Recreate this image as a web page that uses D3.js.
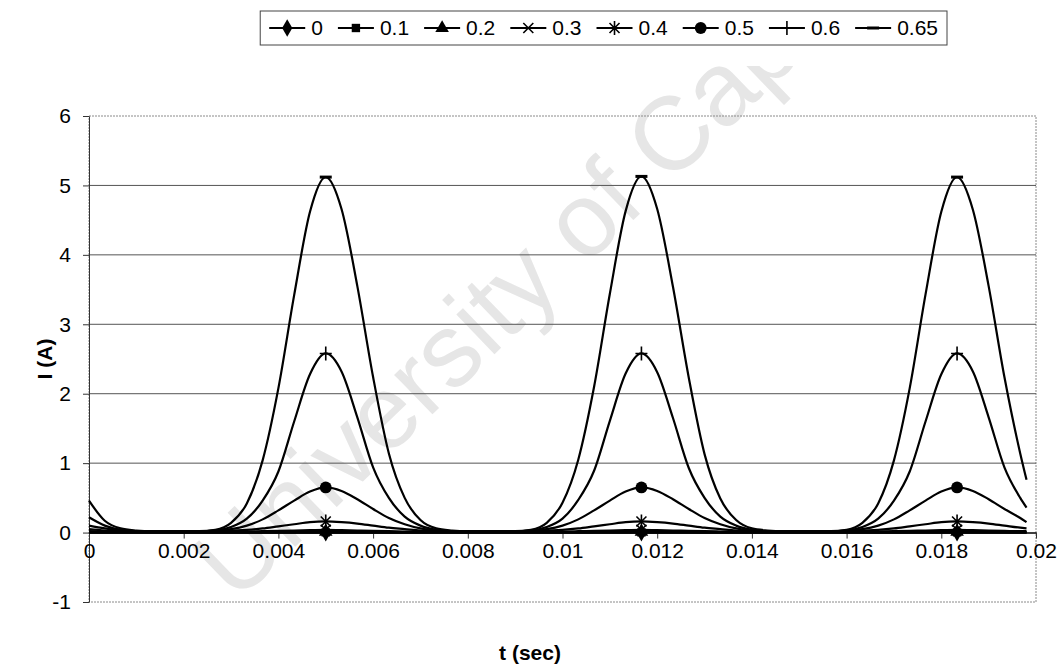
<!DOCTYPE html>
<html>
<head>
<meta charset="utf-8">
<script src="https://cdn.jsdelivr.net/npm/d3@7"></script>
<style>
  body { margin: 0; background: #fff; }
  text { font-family: "Liberation Sans", Arial, sans-serif; }
</style>
</head>
<body>
<div id="chart"></div>
<script>
// sample times (s)
const times = [0, 0.000333, 0.000667, 0.001, 0.001333, 0.001667, 0.002, 0.002333, 0.002667, 0.003,
    0.003333, 0.003667, 0.004, 0.004333, 0.004667, 0.005, 0.005333, 0.005667, 0.006, 0.006333,
    0.006667, 0.007, 0.007333, 0.007667, 0.008, 0.008333, 0.008667, 0.009, 0.009333, 0.009667,
    0.01, 0.010333, 0.010667, 0.011, 0.011333, 0.011667, 0.012, 0.012333, 0.012667, 0.013,
    0.013333, 0.013667, 0.014, 0.014333, 0.014667, 0.015, 0.015333, 0.015667, 0.016, 0.016333,
    0.016667, 0.017, 0.017333, 0.017667, 0.018, 0.018333, 0.018667, 0.019, 0.019333, 0.019667, 0.0198];

// current (A) per series
const i0 = [0, 0, 0, 0, 0, 0, 0, 0, 0, 0, 0, 0, 0, 0, 0, 0, 0, 0, 0, 0, 0, 0, 0, 0, 0, 0, 0, 0, 0, 0,
    0, 0, 0, 0, 0, 0, 0, 0, 0, 0, 0, 0, 0, 0, 0, 0, 0, 0, 0, 0, 0, 0, 0, 0, 0, 0, 0, 0, 0, 0, 0];
const i01 = [0.003, 0.002, 0.002, 0.002, 0.002, 0.002, 0.002, 0.002, 0.002, 0.002, 0.002, 0.002, 0.003, 0.003, 0.003,
    0.003, 0.003, 0.003, 0.003, 0.002, 0.002, 0.002, 0.002, 0.002, 0.002, 0.002, 0.002, 0.002, 0.002, 0.002,
    0.002, 0.002, 0.003, 0.003, 0.003, 0.003, 0.003, 0.003, 0.003, 0.002, 0.002, 0.002, 0.002, 0.002, 0.002,
    0.002, 0.002, 0.002, 0.002, 0.002, 0.002, 0.002, 0.003, 0.003, 0.003, 0.003, 0.003, 0.003, 0.003, 0.002, 0.002];
const i02 = [0.008, 0.006, 0.005, 0.005, 0.005, 0.005, 0.005, 0.005, 0.005, 0.005, 0.006, 0.007, 0.008, 0.009, 0.01,
    0.01, 0.01, 0.009, 0.008, 0.007, 0.006, 0.005, 0.005, 0.005, 0.005, 0.005, 0.005, 0.005, 0.005, 0.005,
    0.006, 0.007, 0.008, 0.009, 0.01, 0.01, 0.01, 0.009, 0.008, 0.007, 0.006, 0.005, 0.005, 0.005, 0.005,
    0.005, 0.005, 0.005, 0.005, 0.005, 0.006, 0.007, 0.008, 0.009, 0.01, 0.01, 0.01, 0.009, 0.008, 0.007, 0.007];
const i03 = [0.02, 0.015, 0.01, 0.01, 0.01, 0.01, 0.01, 0.01, 0.01, 0.01, 0.015, 0.02, 0.025, 0.03, 0.035,
    0.04, 0.035, 0.03, 0.025, 0.02, 0.015, 0.01, 0.01, 0.01, 0.01, 0.01, 0.01, 0.01, 0.01, 0.01,
    0.015, 0.02, 0.025, 0.03, 0.035, 0.04, 0.035, 0.03, 0.025, 0.02, 0.015, 0.01, 0.01, 0.01, 0.01,
    0.01, 0.01, 0.01, 0.01, 0.01, 0.015, 0.02, 0.025, 0.03, 0.035, 0.04, 0.035, 0.03, 0.025, 0.02, 0.02];
const i04 = [0.05, 0.03, 0.02, 0.01, 0.01, 0.01, 0.01, 0.01, 0.02, 0.03, 0.04, 0.06, 0.09, 0.12, 0.15,
    0.16, 0.15, 0.13, 0.1, 0.07, 0.05, 0.03, 0.02, 0.01, 0.01, 0.01, 0.01, 0.01, 0.02, 0.03,
    0.04, 0.06, 0.09, 0.12, 0.15, 0.16, 0.15, 0.13, 0.1, 0.07, 0.05, 0.03, 0.02, 0.01, 0.01,
    0.01, 0.01, 0.01, 0.02, 0.03, 0.04, 0.06, 0.09, 0.12, 0.15, 0.16, 0.15, 0.13, 0.1, 0.07, 0.06];
const i05 = [0.1, 0.06, 0.03, 0.02, 0.02, 0.02, 0.02, 0.02, 0.03, 0.05, 0.1, 0.19, 0.32, 0.46, 0.59,
    0.65, 0.6, 0.48, 0.34, 0.21, 0.12, 0.06, 0.03, 0.02, 0.02, 0.02, 0.02, 0.02, 0.03, 0.05,
    0.1, 0.19, 0.32, 0.46, 0.59, 0.65, 0.6, 0.48, 0.34, 0.21, 0.12, 0.06, 0.03, 0.02, 0.02,
    0.02, 0.02, 0.02, 0.03, 0.05, 0.1, 0.19, 0.32, 0.46, 0.59, 0.65, 0.6, 0.48, 0.34, 0.21, 0.15];
const i06 = [0.22, 0.1, 0.04, 0.02, 0.02, 0.02, 0.02, 0.02, 0.03, 0.08, 0.2, 0.46, 0.88, 1.6, 2.28,
    2.58, 2.32, 1.66, 0.94, 0.5, 0.23, 0.1, 0.04, 0.02, 0.02, 0.02, 0.02, 0.02, 0.03, 0.08,
    0.2, 0.47, 0.89, 1.61, 2.29, 2.58, 2.31, 1.65, 0.93, 0.5, 0.23, 0.1, 0.04, 0.02, 0.02,
    0.02, 0.02, 0.02, 0.03, 0.08, 0.2, 0.46, 0.88, 1.6, 2.28, 2.58, 2.32, 1.66, 0.94, 0.5, 0.36];
const i065 = [0.46, 0.17, 0.06, 0.03, 0.02, 0.02, 0.02, 0.02, 0.04, 0.14, 0.42, 1.04, 2.08, 3.42, 4.62,
    5.12, 4.66, 3.55, 2.24, 1.14, 0.5, 0.18, 0.06, 0.03, 0.02, 0.02, 0.02, 0.02, 0.04, 0.14,
    0.43, 1.05, 2.1, 3.44, 4.63, 5.13, 4.66, 3.54, 2.23, 1.13, 0.49, 0.18, 0.06, 0.03, 0.02,
    0.02, 0.02, 0.02, 0.04, 0.14, 0.42, 1.04, 2.08, 3.43, 4.62, 5.12, 4.65, 3.55, 2.24, 1.14, 0.76];

const seriesNames = ["0", "0.1", "0.2", "0.3", "0.4", "0.5", "0.6", "0.65"];
const seriesValues = [i0, i01, i02, i03, i04, i05, i06, i065];
const markerTypes = ["diamond", "square", "triangle", "x", "asterisk", "circle", "plus", "dash"];
// markers only show at the peak samples
const markerTimes = [0.005, 0.011667, 0.018333];

const xTicks = [0, 0.002, 0.004, 0.006, 0.008, 0.01, 0.012, 0.014, 0.016, 0.018, 0.02];
const xTickLabels = ["0", "0.002", "0.004", "0.006", "0.008", "0.01", "0.012", "0.014", "0.016", "0.018", "0.02"];
const yTicks = [-1, 0, 1, 2, 3, 4, 5, 6];
const yTickLabels = ["-1", "0", "1", "2", "3", "4", "5", "6"];

const W = 1062, H = 665;
const margin = { top: 116, right: 26, bottom: 63, left: 89 };
const width = W - margin.left - margin.right;
const height = H - margin.top - margin.bottom;
const fontSize = 21;

const svg = d3.select('#chart').append('svg')
    .attr('width', W)
    .attr('height', H);

svg.append('rect').attr('width', W).attr('height', H).attr('fill', '#fff');

// faint watermark behind everything, cut off near the top like the scan
svg.append('clipPath').attr('id', 'wm-clip')
    .append('rect').attr('x', 0).attr('y', 66).attr('width', W).attr('height', H - 66);
svg.append('g')
    .attr('clip-path', 'url(#wm-clip)')
    .append('text')
    .attr('transform', 'translate(236,604) rotate(-44)')
    .attr('font-size', 104)
    .attr('fill', '#e6e6e6')
    .text('University of Cape Town');

const x = d3.scaleLinear().domain([0, 0.02]).range([0, width]);
const y = d3.scaleLinear().domain([-1, 6]).range([height, 0]);

const g = svg.append('g')
    .attr('transform', `translate(${margin.left},${margin.top})`);

// plot area border (dotted)
g.append('rect')
    .attr('width', width).attr('height', height)
    .attr('fill', 'none')
    .attr('stroke', '#8a8a8a')
    .attr('stroke-dasharray', '2,1');

// horizontal gridlines
g.append('g')
    .selectAll('line')
    .data(yTicks.filter(d => d > 0 && d < 6))
    .enter()
    .append('line')
    .attr('x1', 0).attr('x2', width)
    .attr('y1', d => y(d)).attr('y2', d => y(d))
    .attr('stroke', '#555')
    .attr('stroke-width', 1);

// y axis
const yAxis = g.append('g')
    .call(d3.axisLeft(y).tickValues(yTicks).tickSize(6).tickSizeOuter(0).tickPadding(12)
        .tickFormat((d, i) => yTickLabels[i]));
yAxis.select('.domain').attr('stroke', '#333');
yAxis.selectAll('.tick line').attr('stroke', '#333');
yAxis.selectAll('text').attr('font-size', fontSize).attr('fill', '#000');

// x axis sits on y = 0
const xAxis = g.append('g')
    .attr('transform', `translate(0,${y(0)})`)
    .call(d3.axisBottom(x).tickValues(xTicks).tickSize(6).tickSizeOuter(0).tickPadding(5)
        .tickFormat((d, i) => xTickLabels[i]));
xAxis.select('.domain').attr('stroke', '#000').attr('stroke-width', 1.5);
xAxis.selectAll('.tick line').attr('stroke', '#333');
xAxis.selectAll('text').attr('font-size', fontSize).attr('fill', '#000');

// curves
const line = d3.line()
    .x((d, i) => x(times[i]))
    .y(d => y(d))
    .curve(d3.curveMonotoneX);

g.append('g')
    .selectAll('path')
    .data(seriesValues)
    .enter()
    .append('path')
    .attr('d', line)
    .attr('fill', 'none')
    .attr('stroke', '#000')
    .attr('stroke-width', 2.2);

function marker(sel, type) {
    const filled = { diamond: d3.symbolDiamond, square: d3.symbolSquare, triangle: d3.symbolTriangle, circle: d3.symbolCircle };
    const sizes = { diamond: 90, square: 70, triangle: 80, circle: 110 };
    if (filled[type]) {
        return sel.append('path')
            .attr('d', d3.symbol().type(filled[type]).size(sizes[type])())
            .attr('fill', '#000');
    }
    let d;
    if (type === 'x') d = 'M-5,-5L5,5M-5,5L5,-5';
    if (type === 'asterisk') d = 'M-5,-5L5,5M-5,5L5,-5M0,-7V7';
    if (type === 'plus') d = 'M-6,0H6M0,-7V7';
    if (type === 'dash') d = 'M-6,0H6';
    return sel.append('path')
        .attr('d', d)
        .attr('fill', 'none')
        .attr('stroke', '#000')
        .attr('stroke-width', type === 'dash' ? 3 : 1.6);
}

// peak markers
seriesValues.forEach((vals, s) => {
    markerTimes.forEach(t => {
        const idx = d3.minIndex(times, d => Math.abs(d - t));
        const m = g.append('g')
            .attr('transform', `translate(${x(times[idx])},${y(vals[idx])})`);
        marker(m, markerTypes[s]);
    });
});

// axis titles
svg.append('text')
    .attr('transform', `translate(52,${margin.top + y(2.5)}) rotate(-90)`)
    .attr('text-anchor', 'middle')
    .attr('font-size', fontSize)
    .attr('font-weight', 'bold')
    .text('I (A)');

svg.append('text')
    .attr('x', 530)
    .attr('y', 660)
    .attr('text-anchor', 'middle')
    .attr('font-size', fontSize)
    .attr('font-weight', 'bold')
    .text('t (sec)');

// legend
const legend = svg.append('g');
const box = legend.append('rect')
    .attr('fill', '#fff')
    .attr('stroke', '#444');
let cx = 0;
seriesNames.forEach((name, s) => {
    const item = legend.append('g').attr('transform', `translate(${cx},0)`);
    item.append('line')
        .attr('x1', 0).attr('x2', 36)
        .attr('stroke', '#000').attr('stroke-width', 2);
    marker(item.append('g').attr('transform', 'translate(18,0)'), markerTypes[s]);
    const txt = item.append('text')
        .attr('x', 42)
        .attr('dy', '0.35em')
        .attr('font-size', fontSize)
        .text(name);
    cx += 42 + txt.node().getComputedTextLength() + 15;
});
const legW = cx - 15 + 18;
box.attr('x', -9).attr('y', -17).attr('width', legW).attr('height', 34);
legend.attr('transform', `translate(${947 - legW + 9},28)`);
</script>
</body>
</html>
